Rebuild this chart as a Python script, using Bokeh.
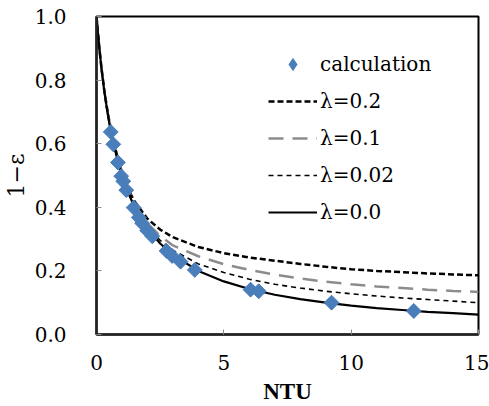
from bokeh.plotting import figure
from bokeh.models import Range1d, Legend, LegendItem, FixedTicker, NumeralTickFormatter
from bokeh.embed import file_html
from bokeh.resources import INLINE

# Calculated points: NTU vs 1-effectiveness
calc_ntu = [0.56, 0.66, 0.84, 0.97, 1.05, 1.17, 1.46, 1.66, 1.79, 1.99, 2.19,
            2.75, 2.97, 3.30, 3.86, 6.05, 6.37, 9.23, 12.46]
calc_val = [0.637, 0.598, 0.541, 0.498, 0.482, 0.454, 0.399, 0.368, 0.350, 0.327, 0.309,
            0.263, 0.247, 0.229, 0.203, 0.141, 0.136, 0.100, 0.074]

# Curves for different longitudinal conduction parameters
ntu = [0, 0.1, 0.2, 0.3, 0.4, 0.5, 0.6, 0.8, 1.0, 1.25, 1.5, 2, 2.5, 3, 4, 5,
       6, 7, 8, 9, 10, 11, 12, 13, 14, 15]
lam_00 = [1.0, 0.909, 0.833, 0.769, 0.714, 0.667, 0.625, 0.556, 0.500, 0.444, 0.400,
          0.333, 0.286, 0.250, 0.200, 0.167, 0.143, 0.125, 0.111, 0.100, 0.091,
          0.083, 0.077, 0.071, 0.067, 0.0625]
lam_002 = [1.0, 0.909, 0.834, 0.770, 0.715, 0.668, 0.626, 0.558, 0.503, 0.448, 0.405,
           0.340, 0.296, 0.265, 0.222, 0.195, 0.174, 0.158, 0.146, 0.136, 0.128,
           0.121, 0.115, 0.110, 0.105, 0.100]
lam_01 = [1.0, 0.910, 0.834, 0.771, 0.716, 0.669, 0.628, 0.561, 0.506, 0.452, 0.410,
          0.350, 0.310, 0.280, 0.246, 0.221, 0.203, 0.188, 0.176, 0.166, 0.158,
          0.151, 0.146, 0.141, 0.137, 0.134]
lam_02 = [1.0, 0.910, 0.835, 0.772, 0.718, 0.672, 0.632, 0.566, 0.510, 0.455, 0.418,
          0.364, 0.330, 0.306, 0.275, 0.256, 0.242, 0.232, 0.222, 0.213, 0.205,
          0.200, 0.196, 0.192, 0.189, 0.186]

x_ticks = [0, 5, 10, 15]
y_ticks = [0.0, 0.2, 0.4, 0.6, 0.8, 1.0]

SERIF = "DejaVu Serif"

p = figure(width=489, height=406, output_backend="svg", toolbar_location=None,
           x_range=Range1d(0, 15), y_range=Range1d(0, 1.0),
           min_border_left=96, min_border_right=11, min_border_top=16, min_border_bottom=67)

p.grid.grid_line_color = None
p.outline_line_color = "black"
p.outline_line_width = 2
p.background_fill_color = "white"
p.border_fill_color = "white"

for ax in (p.xaxis[0], p.yaxis[0]):
    ax.axis_line_color = "#222222"
    ax.axis_line_width = 2.5
    ax.major_tick_in = 5
    ax.major_tick_out = 0
    ax.major_tick_line_color = "#8c8c8c"
    ax.major_tick_line_width = 1
    ax.minor_tick_line_color = None
    ax.major_label_text_font = SERIF
    ax.major_label_text_font_size = "20px"
    ax.major_label_text_color = "black"
    ax.axis_label_text_color = "black"

p.xaxis.ticker = FixedTicker(ticks=x_ticks)
p.yaxis.ticker = FixedTicker(ticks=y_ticks)
p.yaxis.formatter = NumeralTickFormatter(format="0.0")
p.xaxis.major_label_standoff = 20
p.yaxis.major_label_standoff = 30

p.xaxis.axis_label = "NTU"
p.xaxis.axis_label_text_font = "Liberation Serif"
p.xaxis.axis_label_text_font_style = "bold"
p.xaxis.axis_label_text_font_size = "23px"
p.xaxis.axis_label_standoff = 6

p.yaxis.axis_label = "1\u2212\u03b5"
p.yaxis.axis_label_text_font = SERIF
p.yaxis.axis_label_text_font_style = "normal"
p.yaxis.axis_label_text_font_size = "22px"
p.yaxis.axis_label_standoff = 3

r02 = p.line(ntu, lam_02, line_color="black", line_width=2.5, line_dash="6 3")
r01 = p.line(ntu, lam_01, line_color="#8c8c8c", line_width=2.5, line_dash="15 9")
r002 = p.line(ntu, lam_002, line_color="black", line_width=1.6, line_dash="5 4")
r00 = p.line(ntu, lam_00, line_color="black", line_width=2.2)
# diamond key shape, drawn beneath the rotated squares
rc_key = p.scatter(calc_ntu, calc_val, marker="diamond", size=14,
                   fill_color="#4a7ebb", line_color="#4a7ebb")
rc = p.scatter(calc_ntu, calc_val, marker="square", angle=0.785398, size=10.5,
               fill_color="#4a7ebb", line_color="#4a7ebb")

legend = Legend(items=[
    LegendItem(label="calculation", renderers=[rc_key]),
    LegendItem(label="\u03bb=0.2", renderers=[r02]),
    LegendItem(label="\u03bb=0.1", renderers=[r01]),
    LegendItem(label="\u03bb=0.02", renderers=[r002]),
    LegendItem(label="\u03bb=0.0", renderers=[r00]),
], location=(172, 107))
legend.label_text_font = SERIF
legend.label_text_font_size = "20px"
legend.label_text_color = "black"
legend.glyph_width = 49
legend.glyph_height = 30
legend.label_height = 30
legend.spacing = 7
legend.label_standoff = 3
legend.padding = 0
legend.margin = 0
legend.border_line_color = None
legend.background_fill_alpha = 0
p.add_layout(legend, "center")

open("out.html", "w").write(file_html(p, INLINE))
